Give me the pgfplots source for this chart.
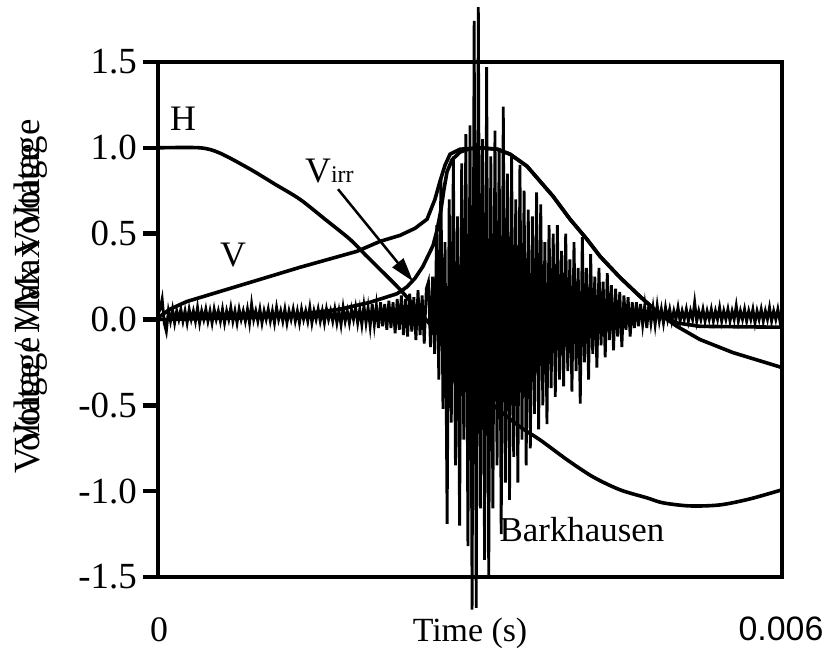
\documentclass[border=0pt]{standalone}
\usepackage{fontspec}
\setmainfont{Liberation Serif}
\newfontfamily\arialfont{Liberation Sans}
\usepackage{pgfplots}
\usepackage{pgfplotstable}
\pgfplotsset{compat=1.18}
\usetikzlibrary{arrows.meta}

% Applied field H (normalised)
\pgfplotstableread{
t v
0.000000 1.000
0.000404 1.000
0.000596 0.969
0.000885 0.876
0.001125 0.788
0.001365 0.700
0.001606 0.584
0.001846 0.467
0.001990 0.379
0.002135 0.292
0.002327 0.175
0.002519 0.041
0.002712 -0.099
0.002875 -0.234
0.003048 -0.379
0.003221 -0.496
0.003481 -0.625
0.003673 -0.701
0.003933 -0.817
0.004183 -0.917
0.004442 -0.992
0.004702 -1.039
0.004856 -1.068
0.005115 -1.086
0.005404 -1.080
0.005692 -1.045
0.006000 -0.992
}\fieldH

% Total induced voltage V
\pgfplotstableread{
t v
0.000000 0.010
0.000115 0.060
0.000279 0.105
0.000885 0.216
0.001365 0.304
0.001913 0.397
0.002135 0.455
0.002327 0.490
0.002471 0.531
0.002587 0.584
0.002663 0.700
0.002712 0.806
0.002760 0.899
0.002808 0.963
0.002904 0.992
0.003096 1.000
0.003260 0.992
0.003385 0.963
0.003548 0.893
0.003798 0.718
0.003962 0.584
0.004125 0.467
0.004250 0.368
0.004442 0.245
0.004635 0.134
0.004827 0.030
0.004990 -0.040
0.005212 -0.117
0.005529 -0.193
0.006000 -0.280
}\voltV

% Irreversible component V_irr
\pgfplotstableread{
t v
0.000000 0.000
0.000885 0.010
0.001365 0.030
0.001750 0.060
0.002038 0.100
0.002298 0.150
0.002394 0.190
0.002471 0.240
0.002548 0.310
0.002644 0.430
0.002683 0.520
0.002721 0.640
0.002750 0.760
0.002779 0.860
0.002827 0.930
0.002904 0.975
0.003000 0.995
0.003096 1.000
0.003260 0.992
0.003385 0.963
0.003548 0.893
0.003798 0.718
0.003962 0.584
0.004125 0.467
0.004250 0.368
0.004442 0.245
0.004635 0.134
0.004827 0.030
0.004990 -0.020
0.005212 -0.040
0.006000 -0.045
}\voltVirr

% Barkhausen noise signal
\pgfplotstableread{
t v
0.00000 0.03
0.00002 0.06
0.00004 0.12
0.00006 -0.02
0.00008 -0.07
0.00010 0.05
0.00012 -0.01
0.00014 0.06
0.00016 -0.02
0.00018 0.05
0.00020 0.00
0.00022 0.06
0.00024 -0.01
0.00026 0.05
0.00028 -0.02
0.00030 0.06
0.00032 0.00
0.00034 0.05
0.00036 -0.01
0.00038 0.07
0.00040 -0.02
0.00042 0.05
0.00044 0.00
0.00046 0.06
0.00048 -0.01
0.00050 0.05
0.00052 -0.02
0.00054 0.06
0.00056 0.00
0.00058 0.05
0.00060 -0.01
0.00062 0.06
0.00064 -0.02
0.00066 0.05
0.00068 0.00
0.00070 0.07
0.00072 -0.01
0.00074 0.05
0.00076 -0.02
0.00078 0.06
0.00080 0.00
0.00082 0.05
0.00084 -0.01
0.00086 0.06
0.00088 -0.02
0.00090 0.09
0.00092 0.00
0.00094 0.05
0.00096 -0.01
0.00098 0.06
0.00100 -0.02
0.00102 0.05
0.00104 0.00
0.00106 0.06
0.00108 -0.01
0.00110 0.05
0.00112 -0.02
0.00114 0.07
0.00116 0.00
0.00118 0.05
0.00120 -0.01
0.00122 0.06
0.00124 -0.02
0.00126 0.05
0.00128 0.00
0.00130 0.06
0.00132 -0.01
0.00134 0.05
0.00136 -0.02
0.00138 0.06
0.00140 0.00
0.00142 0.05
0.00144 -0.01
0.00146 0.07
0.00148 -0.02
0.00150 0.05
0.00152 0.00
0.00154 0.06
0.00156 -0.01
0.00158 0.05
0.00160 -0.02
0.00162 0.06
0.00164 0.00
0.00166 0.05
0.00168 -0.01
0.00170 0.06
0.00172 -0.02
0.00174 0.05
0.00176 -0.03
0.00178 0.07
0.00180 -0.01
0.00182 0.05
0.00184 -0.02
0.00186 0.06
0.00188 0.00
0.00190 0.07
0.00192 -0.02
0.00194 0.06
0.00196 -0.03
0.00198 0.08
0.00200 -0.02
0.00202 0.07
0.00204 -0.04
0.00206 0.09
0.00208 -0.03
0.00210 0.08
0.00212 -0.05
0.00214 0.10
0.00216 -0.04
0.00218 0.09
0.00220 -0.06
0.00222 0.11
0.00224 -0.05
0.00226 0.10
0.00228 -0.08
0.00230 0.12
0.00232 -0.06
0.00234 0.14
0.00236 -0.09
0.00238 0.12
0.00240 -0.10
0.00242 0.15
0.00244 -0.07
0.00246 0.13
0.00248 -0.12
0.00250 0.17
0.00252 -0.09
0.00254 0.14
0.00256 -0.14
0.00258 0.18
0.00260 0.22
0.00262 -0.16
0.00264 0.25
0.00266 -0.20
0.00268 0.55
0.00270 -0.35
0.00272 0.82
0.00274 -0.52
0.00276 0.45
0.00278 -1.19
0.00280 0.70
0.00282 -0.60
0.00284 0.95
0.00286 -0.85
0.00288 0.60
0.00290 -1.20
0.00292 0.91
0.00294 -0.70
0.00296 1.08
0.00298 -1.32
0.00300 1.13
0.00302 -1.69
0.00304 1.74
0.00306 -1.68
0.00308 1.82
0.00310 -1.10
0.00312 1.05
0.00314 -1.40
0.00316 1.47
0.00318 -1.50
0.00320 0.95
0.00322 -1.10
0.00324 1.10
0.00326 -0.85
0.00328 1.00
0.00330 -1.25
0.00332 1.24
0.00334 -0.95
0.00336 0.85
0.00338 -1.05
0.00340 0.95
0.00342 -0.80
0.00344 0.70
0.00346 -0.95
0.00348 0.90
0.00350 -0.70
0.00352 0.75
0.00354 -0.85
0.00356 0.64
0.00358 -0.75
0.00360 0.60
0.00362 -0.55
0.00364 0.74
0.00366 -0.64
0.00368 0.67
0.00370 -0.50
0.00372 0.45
0.00374 -0.61
0.00376 0.55
0.00378 -0.40
0.00380 0.50
0.00382 -0.45
0.00384 0.55
0.00386 -0.35
0.00388 0.40
0.00390 -0.39
0.00392 0.50
0.00394 -0.30
0.00396 0.35
0.00398 -0.42
0.00400 0.45
0.00402 -0.30
0.00404 0.30
0.00406 -0.49
0.00408 0.48
0.00410 -0.25
0.00412 0.30
0.00414 -0.35
0.00416 0.38
0.00418 -0.20
0.00420 0.25
0.00422 -0.28
0.00424 0.30
0.00426 -0.15
0.00428 0.22
0.00430 -0.22
0.00432 0.27
0.00434 -0.12
0.00436 0.20
0.00438 -0.18
0.00440 0.18
0.00442 -0.10
0.00444 0.16
0.00446 -0.16
0.00448 0.14
0.00450 -0.06
0.00452 0.13
0.00454 -0.10
0.00456 0.10
0.00458 -0.05
0.00460 0.10
0.00462 -0.04
0.00464 0.09
0.00466 -0.03
0.00468 0.08
0.00470 -0.05
0.00472 0.09
0.00474 -0.02
0.00476 0.07
0.00478 -0.03
0.00480 0.08
0.00482 -0.01
0.00484 0.06
0.00486 -0.02
0.00488 0.07
0.00490 0.00
0.00492 0.06
0.00494 -0.01
0.00496 0.05
0.00498 0.00
0.00500 0.07
0.00502 -0.01
0.00504 0.05
0.00506 0.00
0.00508 0.06
0.00510 -0.01
0.00512 0.05
0.00514 0.00
0.00516 0.10
0.00518 -0.01
0.00520 0.05
0.00522 0.00
0.00524 0.06
0.00526 -0.01
0.00528 0.05
0.00530 0.00
0.00532 0.06
0.00534 -0.01
0.00536 0.05
0.00538 0.00
0.00540 0.07
0.00542 -0.01
0.00544 0.05
0.00546 0.00
0.00548 0.06
0.00550 -0.01
0.00552 0.05
0.00554 0.00
0.00556 0.08
0.00558 -0.01
0.00560 0.05
0.00562 0.00
0.00564 0.06
0.00566 -0.01
0.00568 0.05
0.00570 0.00
0.00572 0.06
0.00574 -0.02
0.00576 0.05
0.00578 0.00
0.00580 0.06
0.00582 -0.01
0.00584 0.05
0.00586 0.00
0.00588 0.07
0.00590 -0.01
0.00592 0.05
0.00594 0.00
0.00596 0.06
0.00598 -0.01
0.00600 0.02
}\barkhausen

\begin{document}
\begin{tikzpicture}[x=1bp,y=1bp]
\begin{axis}[
  scale only axis, width=624bp, height=515bp,
  xmin=0, xmax=0.006, ymin=-1.5, ymax=1.5,
  clip=false,
  axis line style={line width=4.5bp},
  xtick=\empty,
  ytick={-1.5,-1,-0.5,0,0.5,1,1.5},
  yticklabels={-1.5,-1.0,-0.5,0.0,0.5,1.0,1.5},
  ytick pos=left,
  tick align=outside,
  major tick length=15bp,
  tick style={line width=4.5bp, black},
  yticklabel style={font=\fontsize{37}{40}\selectfont, inner sep=1bp, xshift=-5bp},
]
\coordinate (O) at (rel axis cs:0,0);
\addplot[black, line width=3.6bp, smooth] table {\fieldH};
\addplot[black, line width=3.6bp] table {\voltV};
\addplot[black, line width=3.6bp] table {\voltVirr};
\addplot[black, line width=2.8bp, line join=miter] table {\barkhausen};

\node[font=\fontsize{36}{40}\selectfont] at (axis cs:0.00024,1.168) {H};
\node[font=\fontsize{36}{40}\selectfont] at (axis cs:0.000721,0.374) {V};
\node[anchor=base west, inner sep=0pt] at (axis cs:0.001413,0.80)
  {\fontsize{36}{40}\selectfont V\fontsize{24}{26}\selectfont irr};
\draw[line width=2.5bp, -{Triangle[length=24bp,width=14bp]}]
  (axis cs:0.001731,0.759) -- (axis cs:0.002452,0.222);
\node[font=\fontsize{35}{40}\selectfont] at (axis cs:0.004077,-1.226) {Barkhausen};
\end{axis}
% frame measured from the lower-left corner of the plot box
\begin{scope}[shift={(O)}, shift={(-158,-73)}]
\node[font=\fontsize{36}{40}\selectfont] at (159,20) {0};
\node[font=\fontsize{34}{40}\selectfont] at (470,17) {Time (s)};
\node[font=\arialfont\fontsize{34}{40}\selectfont] at (781,21) {0.006};
\node[rotate=90, font=\fontsize{37}{40}\selectfont] at (31,341) {Voltage / Max Voltage};
\node[rotate=90, font=\fontsize{37}{40}\selectfont] at (31,366) {Voltage / Max Voltage};
\pgfresetboundingbox
\path[use as bounding box] (0,0) rectangle (826,650);
\end{scope}
\end{tikzpicture}
\end{document}
